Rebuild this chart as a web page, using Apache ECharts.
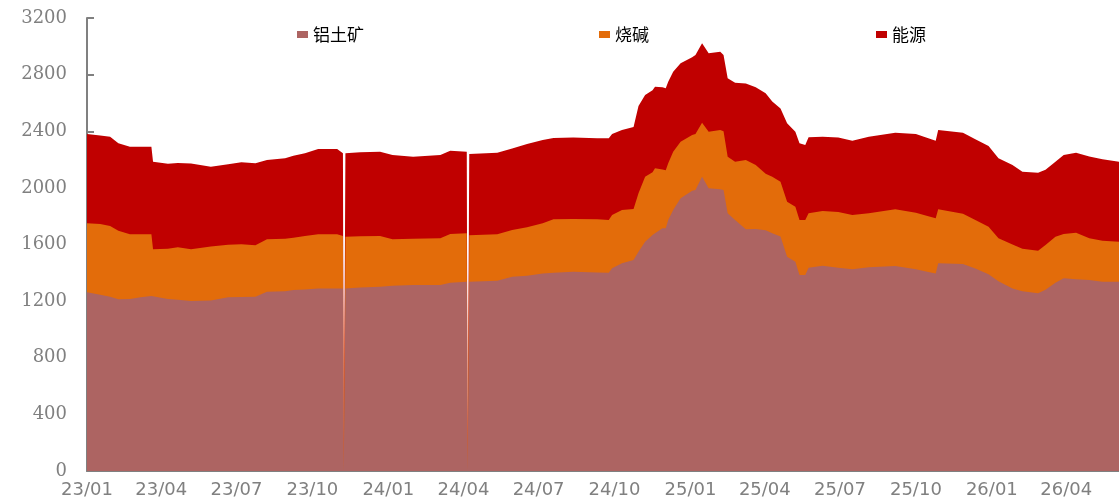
<!DOCTYPE html>
<html>
<head>
<meta charset="utf-8">
<script src="https://cdn.jsdelivr.net/npm/echarts@6/dist/echarts.min.js"></script>
<style>
html,body{margin:0;padding:0;background:#fff;}
#c{width:1119px;height:499px;}
</style>
</head>
<body>
<div id="c"></div>
<script>
const seriesNames = ['铝土矿', '烧碱', '能源'];
const dates = [
'2023-01-01','2023-01-17','2023-01-29','2023-02-08','2023-02-22','2023-03-07','2023-03-20','2023-03-22','2023-04-09','2023-04-21',
'2023-05-07','2023-05-31','2023-06-21','2023-07-07','2023-07-24','2023-08-07','2023-08-29','2023-09-08','2023-09-22','2023-10-08',
'2023-10-31','2023-11-07','2023-11-08','2023-11-09','2023-11-10','2023-11-28','2023-12-22','2024-01-06','2024-01-31','2024-03-04','2024-03-16',
'2024-04-05','2024-04-06','2024-04-07','2024-04-08','2024-05-12','2024-05-30','2024-06-17','2024-07-06','2024-07-19','2024-08-12','2024-09-10',
'2024-09-24','2024-09-28','2024-10-10','2024-10-24','2024-10-30','2024-11-07','2024-11-16','2024-11-19','2024-11-28','2024-12-02',
'2024-12-05','2024-12-11','2024-12-20','2025-01-03','2025-01-07','2025-01-15','2025-01-23','2025-02-06','2025-02-10','2025-02-15',
'2025-02-24','2025-03-09','2025-03-21','2025-04-02','2025-04-10','2025-04-20','2025-04-28','2025-05-08','2025-05-13','2025-05-20',
'2025-05-24','2025-06-10','2025-06-29','2025-07-16','2025-08-05','2025-09-06','2025-10-01','2025-10-16','2025-10-25','2025-10-28',
'2025-11-27','2025-12-12','2025-12-28','2026-01-09','2026-01-26','2026-02-07','2026-02-26','2026-03-07','2026-03-19','2026-03-29',
'2026-04-13','2026-04-29','2026-05-15','2026-06-04'
];
const bauxite = [
1262,1245,1231,1213,1215,1227,1236,1232,1215,1210,
1201,1205,1227,1230,1231,1267,1270,1278,1283,1290,
1290,1290,0,0,1290,1296,1302,1308,1314,1314,1330,
1337,0,0,1337,1344,1373,1380,1395,1401,1408,1403,
1401,1432,1467,1490,1549,1620,1667,1680,1714,1714,
1773,1844,1926,1980,1985,2079,1997,1990,1985,1820,
1773,1707,1710,1700,1679,1656,1514,1478,1385,1385,
1436,1450,1436,1425,1439,1448,1425,1405,1396,1467,
1462,1430,1390,1340,1290,1270,1255,1280,1330,1361,
1355,1349,1337,1337
];
const causticSoda = [
488,500,499,485,457,445,436,334,355,370,
365,380,371,371,363,370,370,370,377,382,
382,370,0,0,365,362,358,329,326,330,345,
342,0,0,328,328,329,341,355,377,373,375,
372,376,377,360,413,459,443,458,416,411,
401,412,400,393,395,381,400,419,415,400,
412,490,452,400,400,388,388,389,388,388,
384,387,394,383,381,401,400,395,389,382,
356,343,336,304,310,300,301,317,325,314,
328,295,290,283
];
const energy = [
631,625,632,617,619,619,618,619,600,595,
606,565,569,580,580,560,569,579,584,603,
603,584,0,0,589,593,596,595,580,588,588,
577,0,0,574,576,577,589,588,574,574,572,
577,573,565,580,616,577,580,577,580,578,
576,565,554,549,559,561,554,553,539,554,
558,541,548,568,531,516,554,530,542,530,
537,525,525,525,542,541,555,550,548,560,
572,570,570,565,562,544,551,531,530,557,
566,577,575,565
];
const tickDates = ['2023-01-01','2023-04-01','2023-07-01','2023-10-01','2024-01-01','2024-04-01','2024-07-01','2024-10-01','2025-01-01','2025-04-01','2025-07-01','2025-10-01','2026-01-01','2026-04-01'];
const tickLabels = ['23/01','23/04','23/07','23/10','24/01','24/04','24/07','24/10','25/01','25/04','25/07','25/10','26/01','26/04'];

const colors = ['#AD6462', '#E36C0A', '#C00000'];
const values = [bauxite, causticSoda, energy];

function ts(s){ const p = s.split('-'); return Date.UTC(+p[0], +p[1]-1, +p[2]); }
const tickTs = tickDates.map(ts);
const labelMap = {};
tickTs.forEach((t,i)=>{ labelMap[t] = tickLabels[i]; });

// cumulative tops of the stacked bands (built from the arrays above)
const cumul = values.map((arr, i) => arr.map((_, j) => {
  let s = 0; for (let k = 0; k <= i; k++) s += values[k][j]; return s;
}));

const chart = echarts.init(document.getElementById('c'), null, {renderer:'canvas'});
const legendLefts = [297, 599, 876];
const seriesList = [];
for (let i = seriesNames.length - 1; i >= 0; i--) {
  seriesList.push({
    name: seriesNames[i], type: 'line', symbol: 'none', z: 2 + (seriesNames.length - i),
    color: colors[i],
    lineStyle: {width: 0, color: colors[i]},
    areaStyle: {color: colors[i], opacity: 1, origin: 'start'},
    data: dates.map((d,j)=>[ts(d), cumul[i][j]])
  });
}
const option = {
  animation: false,
  backgroundColor: '#ffffff',
  grid: {left: 87, right: 0, top: 18, bottom: 28, containLabel: false},
  legend: seriesNames.map((n,i)=>({
    data: [n], left: legendLefts[i], top: 26, padding: 0,
    icon: 'rect', itemWidth: 11, itemHeight: 7,
    textStyle: {fontFamily: '"Noto Sans CJK SC"', fontSize: 17, color: '#000'}
  })),
  xAxis: {
    type: 'value',
    min: ts('2023-01-01'),
    max: ts('2026-06-04'),
    axisLine: {show: true, onZero: false, lineStyle: {color: '#808080', width: 2}},
    axisTick: {show: true, inside: true, length: 4, customValues: tickTs, lineStyle: {color: '#808080', width: 2}},
    axisLabel: {
      customValues: tickTs,
      formatter: v => labelMap[v] || '',
      fontFamily: '"DejaVu Sans"', fontSize: 18, color: '#808080', margin: 10,
      hideOverlap: false
    },
    splitLine: {show: false}
  },
  yAxis: {
    type: 'value', min: 0, max: 3200, interval: 400,
    axisLine: {show: true, lineStyle: {color: '#808080', width: 2}},
    axisTick: {show: true, inside: true, length: 7, lineStyle: {color: '#808080', width: 2}},
    axisLabel: {fontFamily: '"DejaVu Serif"', fontSize: 18, color: '#808080', margin: 20,
      formatter: v => String(v)},
    splitLine: {show: false}
  },
  series: seriesList
};
chart.setOption(option);
</script>
</body>
</html>
